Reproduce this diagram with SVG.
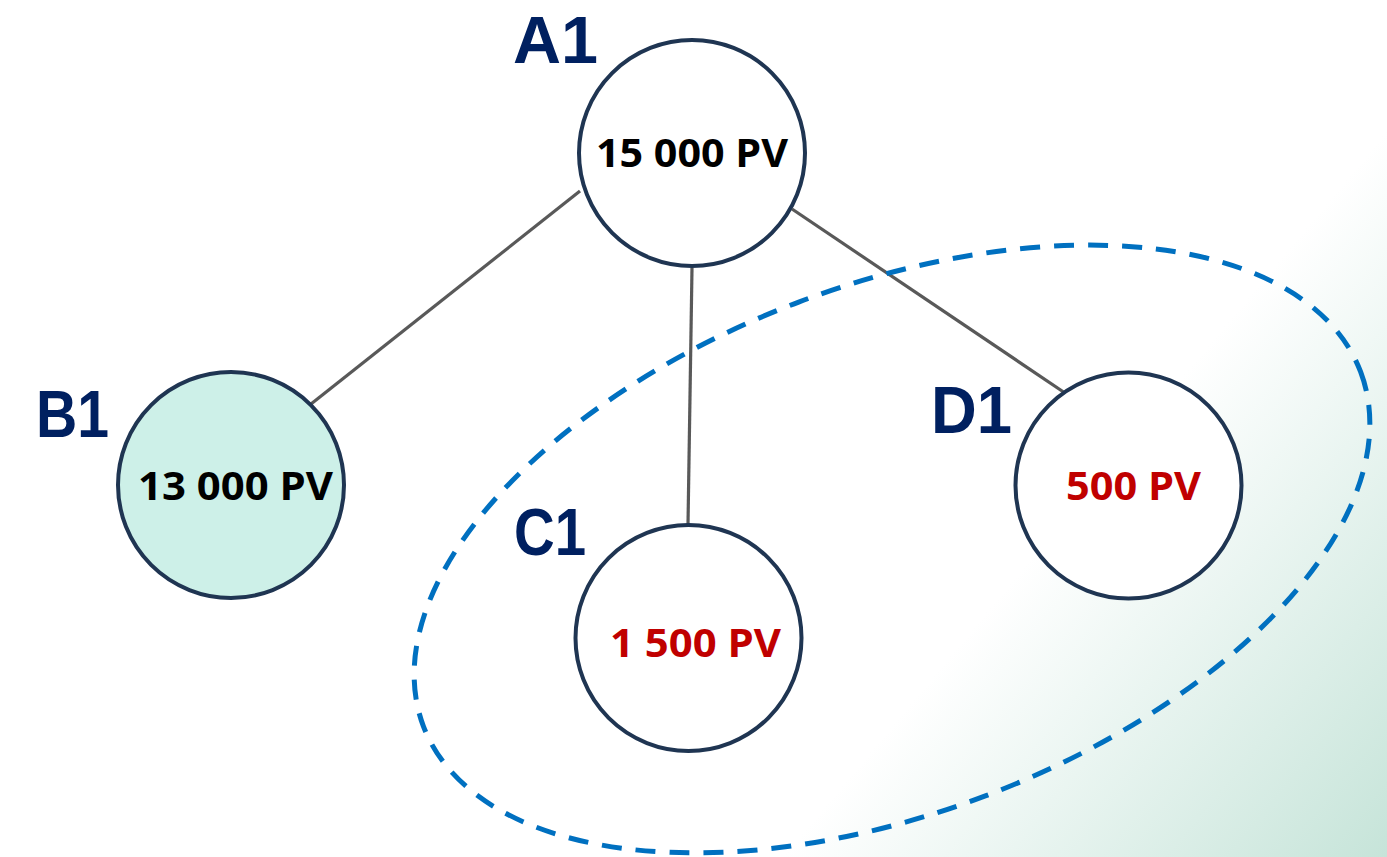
<svg xmlns="http://www.w3.org/2000/svg" width="1387" height="857" viewBox="0 0 1387 857">
<defs>
<linearGradient id="bg" gradientUnits="userSpaceOnUse" x1="1030" y1="560" x2="1387" y2="857">
<stop offset="0" stop-color="#ffffff"/>
<stop offset="1" stop-color="#c6e4d9"/>
</linearGradient>
<style>
.node{stroke:#1f3552;stroke-width:4;fill:#ffffff}
.conn{stroke:#595959;stroke-width:3.2;fill:none}
.lbl{font-family:"Liberation Sans","Open Sans",sans-serif;font-weight:bold;font-size:66px;fill:#002060}
.val{font-family:"Open Sans","Liberation Sans",sans-serif;font-weight:bold;font-size:40px;text-anchor:middle}
.blk{fill:#000000}
.red{fill:#c00000}
.grp{fill:none;stroke:#0070c0;stroke-width:5;stroke-dasharray:20 14}
</style>
</defs>
<rect x="0" y="0" width="1387" height="857" fill="url(#bg)"/>
<g id="connectors">
<line class="conn" x1="580" y1="191" x2="311" y2="404"/>
<line class="conn" x1="692" y1="268" x2="688" y2="524"/>
<line class="conn" x1="792" y1="209" x2="1068" y2="395"/>
</g>
<g id="A1">
<circle class="node" cx="692" cy="153" r="113"/>
<text class="lbl" x="513" y="63" textLength="85" lengthAdjust="spacingAndGlyphs">A1</text>
<text class="val blk" x="692" y="167" textLength="192" lengthAdjust="spacingAndGlyphs">15 000 PV</text>
</g>
<g id="B1">
<circle class="node" cx="231" cy="485" r="113" style="fill:#cdf0e8"/>
<text class="lbl" x="36" y="437" textLength="73" lengthAdjust="spacingAndGlyphs">B1</text>
<text class="val blk" x="235.5" y="500" textLength="195" lengthAdjust="spacingAndGlyphs">13 000 PV</text>
</g>
<g id="C1">
<circle class="node" cx="688.5" cy="638" r="113"/>
<text class="lbl" x="514" y="555" textLength="72" lengthAdjust="spacingAndGlyphs">C1</text>
<text class="val red" x="695.5" y="657" textLength="171" lengthAdjust="spacingAndGlyphs">1 500 PV</text>
</g>
<g id="D1">
<circle class="node" cx="1128.5" cy="485.5" r="113"/>
<text class="lbl" x="931" y="433" textLength="81" lengthAdjust="spacingAndGlyphs">D1</text>
<text class="val red" x="1133.5" y="500" textLength="135" lengthAdjust="spacingAndGlyphs">500 PV</text>
</g>
<g id="group-ellipse">
<ellipse class="grp" cx="892" cy="549" rx="501" ry="264" transform="rotate(-20.7 892 549)"/>
</g>
</svg>
